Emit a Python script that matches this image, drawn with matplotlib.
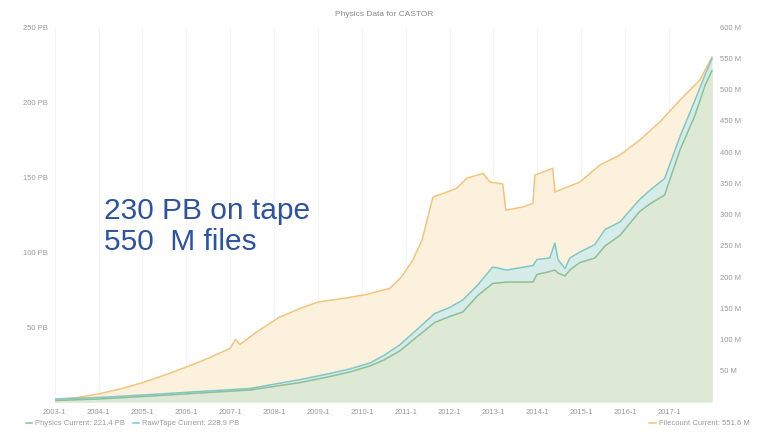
import matplotlib
matplotlib.use("Agg")
import matplotlib.pyplot as plt

plt.rcParams['font.family'] = ['Liberation Sans', 'DejaVu Sans']

# file count on tape (millions of files, right axis)
files_years = [2003.0, 2003.5, 2004.0, 2004.5, 2005.0, 2005.5, 2006.0, 2006.5,
               2007.0, 2007.12, 2007.22, 2007.6, 2008.1, 2008.6, 2009.0, 2009.6,
               2010.1, 2010.64, 2010.9, 2011.16, 2011.37, 2011.62, 2011.94,
               2012.16, 2012.39, 2012.76, 2012.92, 2013.21, 2013.28, 2013.67,
               2013.90, 2013.94, 2014.35, 2014.40, 2014.97, 2015.42, 2015.88,
               2016.33, 2016.79, 2017.25, 2017.70, 2017.98]
files_m = [4, 7, 13, 21, 31, 43, 56, 70, 86, 100, 92, 112, 135, 150, 160, 166,
           172, 182, 200, 227, 259, 328, 336, 342, 358, 366, 352, 349, 307, 312,
           318, 363, 374, 336, 352, 379, 395, 419, 448, 483, 515, 552]

# data volume (PB, left axis)
pb_years = [2003.0, 2004.0, 2005.2, 2006.3, 2007.45, 2008.6, 2009.27, 2009.72,
            2010.18, 2010.5, 2010.86, 2011.32, 2011.66, 2012.0, 2012.3, 2012.64,
            2012.98, 2013.3, 2013.9, 2013.99, 2014.28, 2014.40, 2014.47, 2014.63,
            2014.74, 2014.97, 2015.31, 2015.54, 2015.88, 2016.33, 2016.56,
            2016.9, 2017.25, 2017.59, 2017.82, 2017.98]
tape_pb = [2, 3, 5, 7, 9, 15, 19, 22, 26, 31, 38, 50, 59, 63, 68, 78, 90, 88,
           91, 95, 96, 106, 95, 89, 96, 100, 105, 115, 120, 135, 141, 149, 177,
           201, 218, 229]
physics_pb = [1, 2, 4, 6, 8, 13, 17, 20, 24, 28, 34, 45, 53, 57, 60, 71, 79, 80,
              80, 85, 87, 88, 86, 84, 88, 93, 96, 104, 111, 127, 132, 138, 168,
              191, 211, 221]

year_ticks = list(range(2003, 2018))
year_labels = [f"{y}-1" for y in year_ticks]
pb_ticks = [50, 100, 150, 200, 250]
m_ticks = list(range(50, 601, 50))

grey = '#9a9a9a'
fig = plt.figure(figsize=(7.6, 4.32), dpi=100)
ax = fig.add_axes([0.072, 0.0694, 0.866, 0.868])
ax2 = ax.twinx()
ax.set_zorder(ax2.get_zorder() + 1)
ax.patch.set_visible(False)

ax2.fill_between(files_years, files_m, 0, color='#fcf1dd', lw=0)
l_files, = ax2.plot(files_years, files_m, color='#f3c47a', lw=1.1)
ax.fill_between(pb_years, tape_pb, 0, color='#d6ece8', lw=0)
ax.fill_between(pb_years, physics_pb, 0, color='#dde9d5', lw=0)
l_tape, = ax.plot(pb_years, tape_pb, color='#7cc8ca', lw=1.1)
l_phys, = ax.plot(pb_years, physics_pb, color='#8fbf92', lw=1.1)

ax.set_xlim(2003.0, 2018.0)
ax.set_ylim(0, 250)
ax2.set_ylim(0, 600)
ax.set_xticks(year_ticks)
ax.set_xticklabels(year_labels)
ax.set_yticks(pb_ticks)
ax.set_yticklabels([f"{v} PB" for v in pb_ticks])
ax2.set_yticks(m_ticks)
ax2.set_yticklabels([f"{v} M" for v in m_ticks])

for a in (ax, ax2):
    for s in a.spines.values():
        s.set_visible(False)
    a.tick_params(length=0, labelsize=5.5, colors=grey, pad=5)
for y in year_ticks:
    ax2.axvline(y, color='#f2f2f2', lw=0.6, zorder=0)

ax.set_title("Physics Data for CASTOR", fontsize=6, color='#888888', pad=8)

ax.text(2004.12, 117, "230 PB on tape\n550  M files", fontsize=21.5,
        color='#2c52a0', va='center', ha='left', linespacing=1.15)

fig.legend([l_phys, l_tape],
           ["Physics Current: 221.4 PB", "Raw/Tape Current: 228.9 PB"],
           loc='lower left', bbox_to_anchor=(0.025, -0.005), ncol=2,
           frameon=False, fontsize=5.5, handlelength=0.8,
           columnspacing=1.0, handletextpad=0.4, labelcolor=grey)
fig.legend([l_files], ["Filecount Current: 551.6 M"],
           loc='lower right', bbox_to_anchor=(0.995, -0.005),
           frameon=False, fontsize=5.5, handlelength=0.8,
           handletextpad=0.4, labelcolor=grey)

fig.savefig('out.png', dpi=100, facecolor='white')
